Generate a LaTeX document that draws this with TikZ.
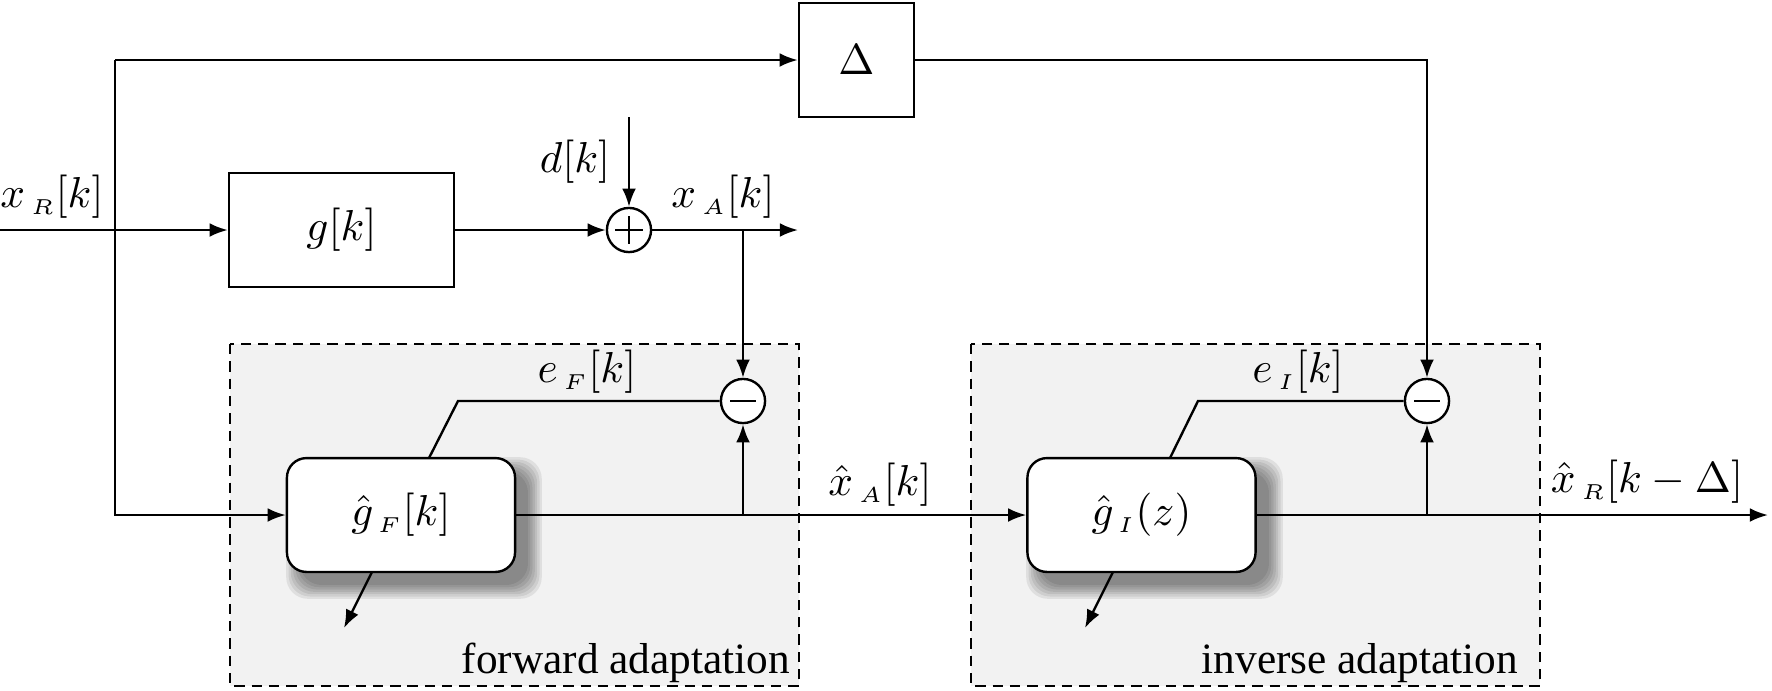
\documentclass[tikz,border=0pt]{standalone}
\usepackage{fontspec}
\newfontfamily\timesfont{Liberation Serif}
\usetikzlibrary{arrows.meta}
\begin{document}
\begin{tikzpicture}[x=0.231pt,y=-0.231pt,
  >={Latex[length=4.2pt,width=3.2pt]},
  line width=0.55pt,
  blk/.style={draw, fill=white, minimum height=26.3pt, inner sep=0pt},
  rblk/.style={draw, fill=white, rounded corners=4.5pt, minimum width=52.7pt, minimum height=26.3pt, inner sep=0pt},
  shadowlayer/.style={fill=black, fill opacity=0.075, rounded corners=5pt},
  sumc/.style={draw, fill=white, circle, minimum size=10.2pt, inner sep=0pt},
  region/.style={draw, dashed, dash pattern=on 2.4pt off 1.6pt, fill=black!5},
  lbl/.style={inner sep=0pt},
  txt/.style={inner sep=0pt, font=\timesfont}]
\useasboundingbox (0,0) rectangle (1772,690);

% shaded regions
\draw[region] (230,344) rectangle (799,686);
\draw[region] (971,344) rectangle (1540,686);

% soft shadows of the adaptive blocks
\foreach \k in {0,...,6}{
  \fill[shadowlayer] ({287+13-\k*2.3},{458+13-\k*2.3}) rectangle ({515+13+\k*2.3},{572+13+\k*2.3});
  \fill[shadowlayer] ({1027+13-\k*2.3},{458+13-\k*2.3}) rectangle ({1256+13+\k*2.3},{572+13+\k*2.3});
}

% blocks
\node[blk, minimum width=52pt] (g) at (341.5,230) {$g[k]$};
\node[blk, minimum width=26.6pt] (D) at (856.5,60) {$\Delta$};
\coordinate (tl) at (115,60);
\node[sumc] (s) at (629,230) {};
\node[sumc] (mF) at (743,401) {};
\node[sumc] (mI) at (1427,401) {};
\node[rblk] (gF) at (401,515) {$\hat g_{\,\scriptscriptstyle F}[k]$};
\node[rblk] (gI) at (1141.5,515) {$\hat g_{\,\scriptscriptstyle I}(z)$};

% signs
\draw (s.center) ++(-14,0) -- ++(28,0);
\draw (s.center) ++(0,-14) -- ++(0,28);
\draw[line width=0.65pt] (mF.center) ++(-13,0) -- ++(26,0);
\draw[line width=0.65pt] (mI.center) ++(-13,0) -- ++(26,0);

% coordinates
\coordinate (in) at (0,230);
\coordinate (dtop) at (629,117);
\coordinate (xAend) at (798,230);
\coordinate (xAb) at (743,230);
\coordinate (xhb) at (743,515);
\coordinate (xRb) at (1427,515);
\coordinate (out) at (1768,515);
\coordinate (eF1) at (458,401);
\coordinate (eF2) at (429,458);
\coordinate (eI1) at (1198,401);
\coordinate (eI2) at (1170,458);
\coordinate (aF1) at (372,572);
\coordinate (aF2) at (344,628);
\coordinate (aI1) at (1113,572);
\coordinate (aI2) at (1085,628);

% connectors
\draw[->] (in) -- (g);
\draw[->] (tl) -- (D);
\draw[->] (tl) |- (gF);
\draw[->] (g) -- (s);
\draw[->] (dtop) -- (s);
\draw[->] (s) -- (xAend);
\draw[->] (xAb) -- (mF);
\draw[->] (D) -| (mI);
\draw[->] (gF) -- (gI);
\draw[->] (xhb) -- (mF);
\draw[->] (gI) -- (out);
\draw[->] (xRb) -- (mI);
\draw (mF) -- (eF1) -- (eF2);
\draw (mI) -- (eI1) -- (eI2);
\draw[->] (aF1) -- (aF2);
\draw[->] (aI1) -- (aI2);

% labels
\node[lbl] (lxR) at (52,197) {$x_{\,\scriptscriptstyle R}[k]$};
\node[lbl] (ld) at (575,162) {$d[k]$};
\node[lbl] (lxA) at (723,197) {$x_{\,\scriptscriptstyle A}[k]$};
\node[lbl] (leF) at (587,372) {$e_{\,\scriptscriptstyle F}[k]$};
\node[lbl] (leI) at (1298,372) {$e_{\,\scriptscriptstyle I}[k]$};
\node[lbl] (lxhA) at (880,485) {$\hat x_{\,\scriptscriptstyle A}[k]$};
\node[lbl] (lxhR) at (1647,482) {$\hat x_{\,\scriptscriptstyle R}[k-\Delta]$};
\node[txt, anchor=base east] (lfwd) at (791,673) {forward adaptation};
\node[txt, anchor=base east] (linv) at (1519,673) {inverse adaptation};
\end{tikzpicture}
\end{document}
